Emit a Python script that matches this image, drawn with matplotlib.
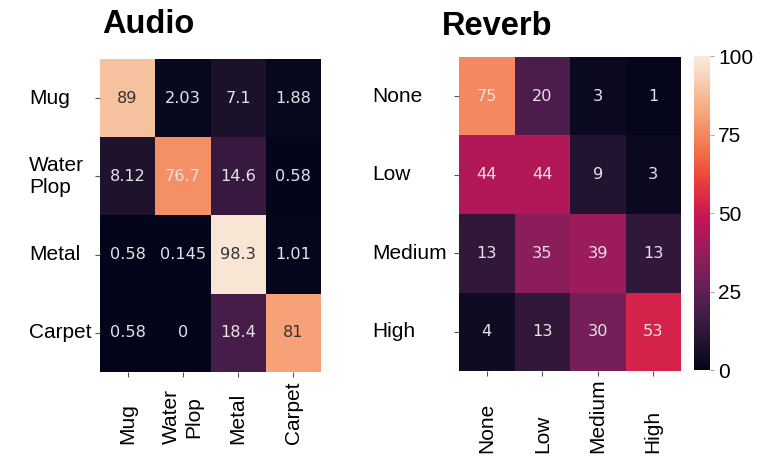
import matplotlib
matplotlib.use("Agg")
import matplotlib.pyplot as plt
import numpy as np
import seaborn as sns

audio_labels = ["Mug", "Water\nPlop", "Metal", "Carpet"]
audio_values = [
    [89, 2.03, 7.1, 1.88],
    [8.12, 76.7, 14.6, 0.58],
    [0.58, 0.145, 98.3, 1.01],
    [0.58, 0, 18.4, 81],
]
reverb_labels = ["None", "Low", "Medium", "High"]
reverb_values = [
    [75, 20, 3, 1],
    [44, 44, 9, 3],
    [13, 35, 39, 13],
    [4, 13, 30, 53],
]
cbar_ticks = [0, 25, 50, 75, 100]

W, H = 763, 461
fig = plt.figure(figsize=(W / 100, H / 100), dpi=100)

def rect(x0, y0, x1, y1):
    return [x0 / W, 1 - y1 / H, (x1 - x0) / W, (y1 - y0) / H]

ax1 = fig.add_axes(rect(100, 59, 321, 372))
ax2 = fig.add_axes(rect(459, 57, 681, 371))
cax = fig.add_axes(rect(694, 56, 710, 370))

annot_kws = {"size": 11.6, "family": "DejaVu Sans"}
sns.heatmap(np.array(audio_values), ax=ax1, annot=True, fmt=".3g", cmap="rocket",
            vmin=0, vmax=100, cbar=False, annot_kws=annot_kws)
sns.heatmap(np.array(reverb_values), ax=ax2, annot=True, fmt=".3g", cmap="rocket",
            vmin=0, vmax=100, cbar=True, cbar_ax=cax, annot_kws=annot_kws)

for ax in (ax1, ax2):
    for t in ax.texts:
        c = matplotlib.colors.to_rgb(t.get_color())
        if sum(c) > 2.5:
            t.set_color("#e4e4e4")
        else:
            t.set_color("#333333")

tick_font = {"family": "Liberation Sans", "size": 15}

def style(ax, labels, ypad, xpad):
    ax.set_xticks(np.arange(len(labels)) + 0.5)
    ax.set_yticks(np.arange(len(labels)) + 0.5)
    ax.set_xticklabels(labels, rotation=90, va="bottom", ha="center", fontdict=tick_font)
    ax.set_yticklabels(labels, rotation=0, ha="left", va="center", fontdict=tick_font)
    ax.tick_params(axis="y", pad=ypad, length=3.5, color="#555555")
    ax.tick_params(axis="x", pad=xpad, length=3.5, color="#555555")

style(ax1, audio_labels, 47.6, 48.5)
style(ax2, reverb_labels, 59.0, 55.5)

cax.set_yticks(cbar_ticks)
cax.set_yticklabels([str(t) for t in cbar_ticks], fontdict=tick_font)
cax.tick_params(length=3, width=0.6, color="#999999", pad=3)

fig.text(102 / W, 1 - 33 / H, "Audio", fontsize=23.5, fontweight="bold",
         family="Liberation Sans", ha="left", va="baseline")
fig.text(442 / W, 1 - 35 / H, "Reverb", fontsize=23.5, fontweight="bold",
         family="Liberation Sans", ha="left", va="baseline")

fig.savefig("out.png", dpi=100)
